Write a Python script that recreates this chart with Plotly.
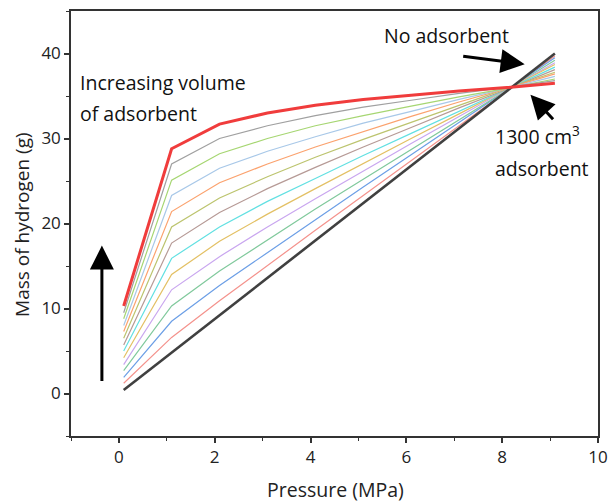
import plotly.graph_objects as go

pressure = [0.1, 1.1, 2.1, 3.1, 4.1, 5.1, 6.1, 7.1, 8.1, 9.1]

volumes = ["0 cm3", "100 cm3", "200 cm3", "300 cm3", "400 cm3", "500 cm3", "600 cm3",
           "700 cm3", "800 cm3", "900 cm3", "1000 cm3", "1100 cm3", "1200 cm3", "1300 cm3"]

mass_0 = [0.4, 4.8, 9.2, 13.6, 18.0, 22.4, 26.8, 31.2, 35.6, 40.0]
mass_100 = [1.2, 6.6, 10.9, 15.1, 19.2, 23.3, 27.4, 31.5, 35.6, 39.7]
mass_200 = [1.9, 8.5, 12.7, 16.6, 20.4, 24.3, 28.1, 31.9, 35.7, 39.5]
mass_300 = [2.7, 10.3, 14.4, 18.1, 21.7, 25.2, 28.7, 32.2, 35.7, 39.2]
mass_400 = [3.4, 12.2, 16.1, 19.6, 22.9, 26.2, 29.4, 32.6, 35.7, 38.9]
mass_500 = [4.2, 14.0, 17.9, 21.1, 24.1, 27.1, 30.0, 32.9, 35.8, 38.7]
mass_600 = [5.0, 15.9, 19.6, 22.6, 25.3, 28.0, 30.6, 33.2, 35.8, 38.4]
mass_700 = [5.7, 17.7, 21.3, 24.1, 26.6, 29.0, 31.3, 33.6, 35.8, 38.1]
mass_800 = [6.5, 19.6, 23.0, 25.5, 27.8, 29.9, 31.9, 33.9, 35.9, 37.8]
mass_900 = [7.3, 21.4, 24.8, 27.0, 29.0, 30.8, 32.6, 34.3, 35.9, 37.6]
mass_1000 = [8.0, 23.3, 26.5, 28.5, 30.2, 31.8, 33.2, 34.6, 35.9, 37.3]
mass_1100 = [8.8, 25.1, 28.2, 30.0, 31.5, 32.7, 33.8, 34.9, 35.9, 37.0]
mass_1200 = [9.5, 27.0, 30.0, 31.5, 32.7, 33.7, 34.5, 35.3, 36.0, 36.8]
mass_1300 = [10.3, 28.8, 31.7, 33.0, 33.9, 34.6, 35.1, 35.6, 36.0, 36.5]

series = [mass_0, mass_100, mass_200, mass_300, mass_400, mass_500, mass_600,
          mass_700, mass_800, mass_900, mass_1000, mass_1100, mass_1200, mass_1300]

colors = ["#404040", "#f4928c", "#6c9fe6", "#80c99c", "#c9a6ef", "#e3c064", "#62e0e2",
          "#b69a96", "#bcc46e", "#fba26e", "#a8c8e8", "#a6d672", "#a0a0a0", "#f03c3c"]
widths = [2.6, 1.2, 1.2, 1.2, 1.2, 1.2, 1.2, 1.2, 1.2, 1.2, 1.2, 1.2, 1.2, 3.0]

fig = go.Figure()
order = list(range(1, 13)) + [0, 13]
for i in order:
    fig.add_trace(go.Scatter(x=pressure, y=series[i], mode="lines", name=volumes[i],
                             line=dict(color=colors[i], width=widths[i]),
                             showlegend=False))

font = "Open Sans, DejaVu Sans, sans-serif"
axis_common = dict(showline=True, linecolor="#333333", linewidth=1.5, mirror=True,
                   ticks="outside", ticklen=5, tickwidth=1.5, tickcolor="#333333",
                   showgrid=False, zeroline=False, automargin=False,
                   tickfont=dict(family=font, size=17, color="#222222"))

fig.update_xaxes(range=[-1, 10], dtick=2, tick0=0,
                 minor=dict(dtick=1, ticklen=3, ticks="outside", tickcolor="#333333", tickwidth=1.2),
                 **axis_common)
fig.update_yaxes(range=[-5, 45], dtick=10, tick0=0,
                 minor=dict(dtick=5, ticklen=3, ticks="outside", tickcolor="#333333", tickwidth=1.2),
                 **axis_common)

tfont = dict(family=font, size=19.5, color="#111111")
title_font = dict(family=font, size=19.5, color="#222222")
anns = [
    dict(xref="paper", yref="paper", x=0.501, y=-0.127, text="Pressure (MPa)", showarrow=False,
         font=title_font, xanchor="center", yanchor="middle"),
    dict(xref="paper", yref="paper", x=-0.093, y=0.499, text="Mass of hydrogen (g)", showarrow=False,
         font=dict(family=font, size=19, color="#222222"), textangle=-90,
         xanchor="center", yanchor="middle"),
    dict(x=6.84, y=42.1, text="No adsorbent", showarrow=False, font=tfont, xanchor="center", yanchor="middle"),
    dict(x=-0.86, y=36.6, text="Increasing volume", showarrow=False, font=tfont, xanchor="left", yanchor="middle"),
    dict(x=-0.86, y=33.0, text="of adsorbent", showarrow=False, font=tfont, xanchor="left", yanchor="middle"),
    dict(x=7.80, y=30.3, text="1300 cm<sup>3</sup>", showarrow=False, font=tfont, xanchor="left", yanchor="middle"),
    dict(x=7.80, y=26.5, text="adsorbent", showarrow=False, font=tfont, xanchor="left", yanchor="middle"),
    dict(x=8.47, y=38.75, ax=-63, ay=-8, text="", showarrow=True, arrowhead=2, arrowsize=1.6,
         arrowwidth=3, arrowcolor="#000000"),
    dict(x=-0.355, y=17.4, ax=0, ay=137, text="", showarrow=True, arrowhead=2, arrowsize=1.6,
         arrowwidth=3, arrowcolor="#000000"),
    dict(x=8.59, y=35.15, ax=24, ay=26, text="", showarrow=True, arrowhead=2, arrowsize=1.6,
         arrowwidth=3, arrowcolor="#000000"),
]
fig.update_layout(annotations=anns, width=608, height=504,
                  margin=dict(l=71, r=10, t=11, b=68, autoexpand=False),
                  plot_bgcolor="white", paper_bgcolor="white")

fig.write_html("out.html", config={"displayModeBar": False},
               post_script="document.body.style.margin='0';document.body.style.padding='0';")
